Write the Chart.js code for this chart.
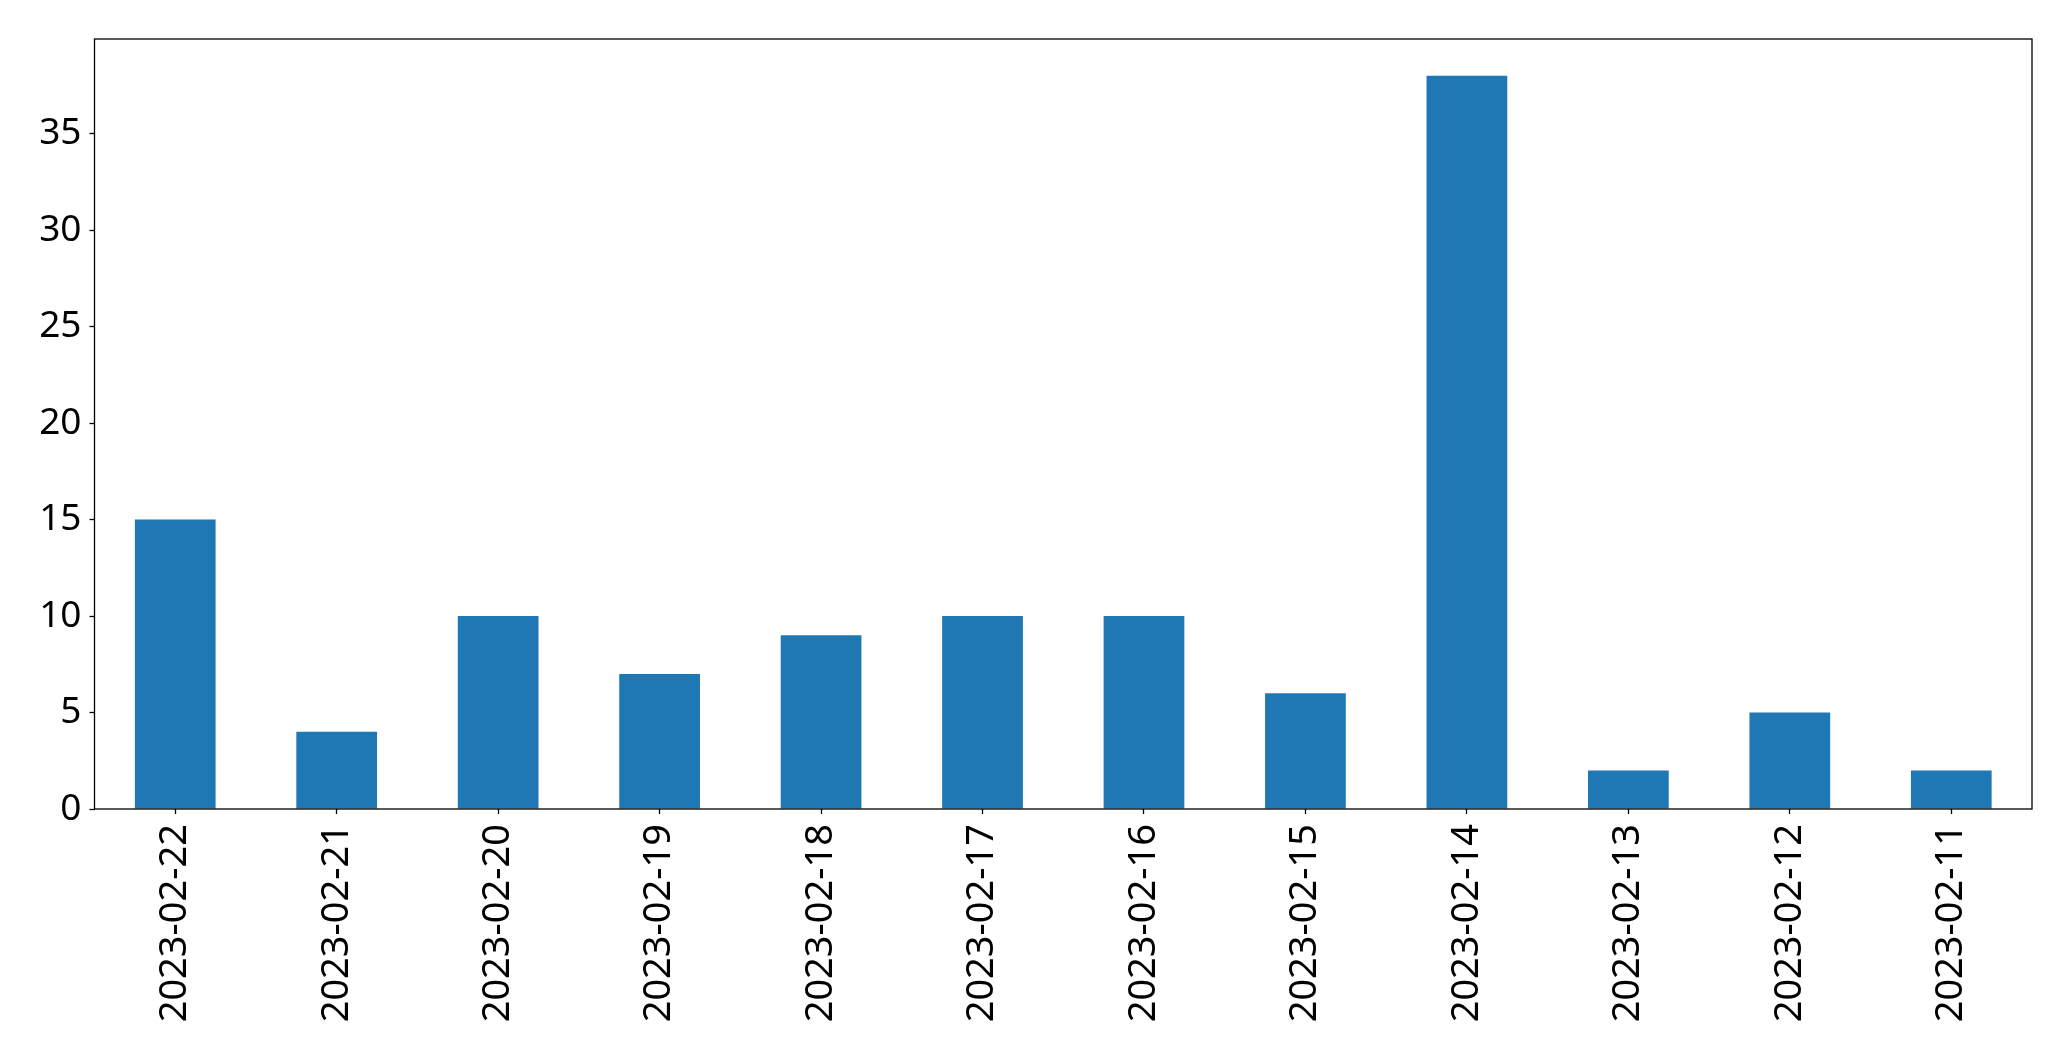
<!DOCTYPE html>
<html>
<head>
<meta charset="utf-8">
<script src="https://cdn.jsdelivr.net/npm/chart.js@4"></script>
<style>
  html, body { margin: 0; padding: 0; background: #fff; }
  #wrap { width: 2071px; height: 1061px; }
</style>
</head>
<body>
<div id="wrap"><canvas id="chart1" width="2071" height="1061"></canvas></div>
<script>
const dates = ['2023-02-22', '2023-02-21', '2023-02-20', '2023-02-19', '2023-02-18', '2023-02-17',
               '2023-02-16', '2023-02-15', '2023-02-14', '2023-02-13', '2023-02-12', '2023-02-11'];
const counts = [15, 4, 10, 7, 9, 10, 10, 6, 38, 2, 5, 2];
const yTicks = [0, 5, 10, 15, 20, 25, 30, 35];

// frame around the plot area, like matplotlib spines
const frame = {
    id: 'frame',
    afterDraw(chart) {
        const a = chart.chartArea;
        const c = chart.ctx;
        c.save();
        c.strokeStyle = '#000';
        c.lineWidth = 1.3;
        c.strokeRect(a.left, a.top, a.right - a.left, a.bottom - a.top);
        c.restore();
    }
};

function createChart1() {
    const ctx = document.getElementById('chart1');
    new Chart(ctx, {
        type: 'bar',
        data: {
            labels: dates,
            datasets: [{
                data: counts,
                backgroundColor: '#1f77b4',
                borderWidth: 0,
                categoryPercentage: 1.0,
                barPercentage: 0.5
            }]
        },
        options: {
            responsive: false,
            animation: false,
            layout: { padding: { top: 39, right: 39, left: 0, bottom: 0 } },
            plugins: { legend: { display: false }, tooltip: { enabled: false } },
            scales: {
                x: {
                    grid: { offset: false, drawOnChartArea: false, drawTicks: true, tickLength: 5, tickColor: '#000', tickWidth: 1.3 },
                    border: { display: false },
                    ticks: {
                        color: '#000',
                        font: { family: 'Noto Sans', size: 38 },
                        minRotation: 90,
                        maxRotation: 90,
                        padding: 10,
                        autoSkip: false
                    },
                    afterFit(scale) { scale.height = 252; }
                },
                y: {
                    min: 0,
                    max: 39.9,
                    grid: { drawOnChartArea: false, drawTicks: true, tickLength: 5, tickColor: '#000', tickWidth: 1.3 },
                    border: { display: false },
                    ticks: {
                        color: '#000',
                        font: { family: 'Noto Sans', size: 37 },
                        padding: 8
                    },
                    afterBuildTicks(scale) { scale.ticks = yTicks.map(v => ({ value: v })); },
                    afterFit(scale) { scale.width = 94.5; }
                }
            }
        },
        plugins: [frame]
    });
}

createChart1();
</script>
</body>
</html>
